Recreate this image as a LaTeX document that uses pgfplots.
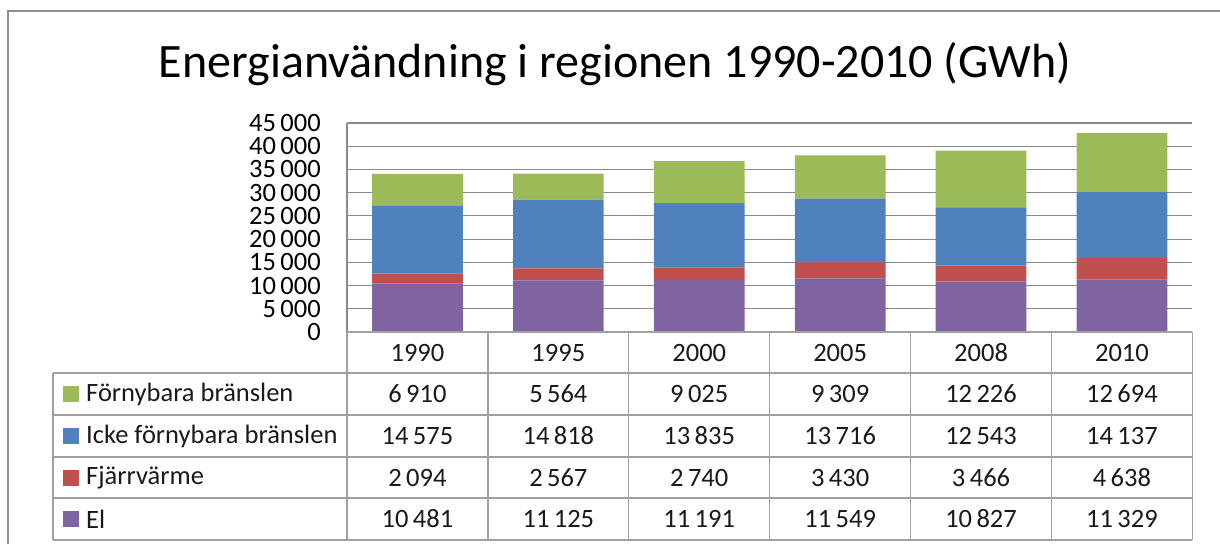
\documentclass[border=0pt]{standalone}
\usepackage{fontspec}
\setmainfont{Carlito}
\usepackage{pgfplots}
\usepackage{pgfplotstable}
\pgfplotsset{compat=1.18}
\pgfkeys{/pgf/number format/.cd,1000 sep={\,},assume math mode=true}
\definecolor{cgreen}{HTML}{9BBB59}
\definecolor{cblue}{HTML}{4F81BD}
\definecolor{cred}{HTML}{C0504D}
\definecolor{cpurple}{HTML}{8064A2}
\definecolor{gridgray}{HTML}{8A8A8A}
\definecolor{tabgray}{HTML}{A0A0A0}
\definecolor{framegray}{HTML}{8E8E8E}

\pgfplotstableread{
x year el fj icke forn
0 1990 10481 2094 14575 6910
1 1995 11125 2567 14818 5564
2 2000 11191 2740 13835 9025
3 2005 11549 3430 13716 9309
4 2008 10827 3466 12543 12226
5 2010 11329 4638 14137 12694
}\datatable

\begin{document}
\begin{tikzpicture}[x=1pt,y=1pt]
\useasboundingbox (0,0) rectangle (1220,544);
\draw[framegray, line width=2pt] (8,0) -- (8,533) -- (1220,533);
\node[font=\fontsize{48}{56}\selectfont, anchor=base] at (615,466) {Energianvändning i regionen 1990-2010 (GWh)};
\begin{axis}[at={(347pt,212pt)}, anchor=south west, scale only axis,
  width=845.4pt, height=209pt,
  xmin=-0.5, xmax=5.5, ymin=0, ymax=45000,
  ytick={0,5000,...,45000}, xtick=\empty,
  ymajorgrids, grid style={gridgray, line width=1.2pt},
  axis x line*=bottom, axis y line*=left,
  axis line style={gridgray, line width=1.2pt, -},
  major tick length=0pt,
  scaled y ticks=false,
  yticklabel style={font=\fontsize{26.5}{28}\selectfont, anchor=east, inner sep=0pt, xshift=-26pt},
  ybar stacked, bar width=90.7pt,
  clip=false]
\addplot[fill=cpurple, draw=none] table[x=x,y=el]{\datatable};
\addplot[fill=cred, draw=none] table[x=x,y=fj]{\datatable};
\addplot[fill=cblue, draw=none] table[x=x,y=icke]{\datatable};
\addplot[fill=cgreen, draw=none] table[x=x,y=forn]{\datatable};
\end{axis}
% data table grid
\begin{scope}[tabgray, line width=1.2pt]
\draw (347,212) -- (1192.4,212);
\foreach \yy in {171,129,87,46,4} \draw (53,\yy) -- (1192.4,\yy);
\draw (53,171) -- (53,4);
\foreach \k in {0,...,6} {
  \pgfmathsetmacro{\vx}{347+\k*140.9}
  \draw (\vx,212) -- (\vx,4);
}
\end{scope}
\tikzset{tabfont/.style={font=\fontsize{26.5}{28}\selectfont, text=black!90}}
\foreach \i in {0,...,5} {
  \pgfmathsetmacro{\cx}{417.45+\i*140.9}
  \pgfplotstablegetelem{\i}{year}\of{\datatable}
  \node[tabfont] at (\cx,191.5) {\pgfplotsretval};
  \pgfplotstablegetelem{\i}{forn}\of{\datatable}
  \node[tabfont] at (\cx,150) {\pgfmathprintnumber{\pgfplotsretval}};
  \pgfplotstablegetelem{\i}{icke}\of{\datatable}
  \node[tabfont] at (\cx,108) {\pgfmathprintnumber{\pgfplotsretval}};
  \pgfplotstablegetelem{\i}{fj}\of{\datatable}
  \node[tabfont] at (\cx,66.5) {\pgfmathprintnumber{\pgfplotsretval}};
  \pgfplotstablegetelem{\i}{el}\of{\datatable}
  \node[tabfont] at (\cx,25) {\pgfmathprintnumber{\pgfplotsretval}};
}
% legend keys
\fill[cgreen] (63,142) rectangle (79,158);
\fill[cblue] (63,100) rectangle (79,116);
\fill[cred] (63,58.5) rectangle (79,74.5);
\fill[cpurple] (63,17) rectangle (79,33);
\node[tabfont, anchor=west, inner sep=0pt] at (86,150) {Förnybara bränslen};
\node[tabfont, anchor=west, inner sep=0pt] at (86,108) {Icke förnybara bränslen};
\node[tabfont, anchor=west, inner sep=0pt] at (86,66.5) {Fjärrvärme};
\node[tabfont, anchor=west, inner sep=0pt] at (86,25) {El};
\end{tikzpicture}
\end{document}
